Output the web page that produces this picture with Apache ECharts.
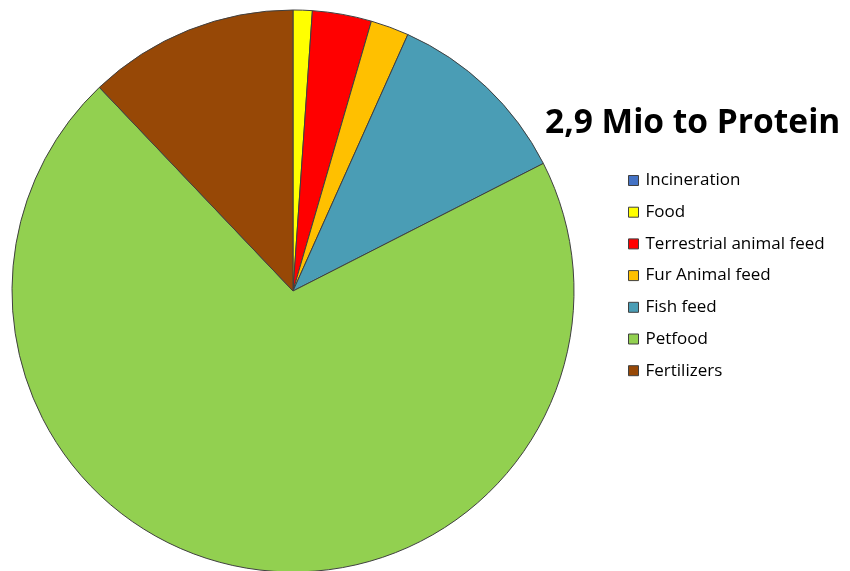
<!DOCTYPE html>
<html>
<head>
<meta charset="utf-8">
<script src="https://cdn.jsdelivr.net/npm/echarts@6/dist/echarts.min.js"></script>
<style>
  html, body { margin: 0; padding: 0; background: #ffffff; }
  #chart { width: 850px; height: 571px; }
</style>
</head>
<body>
<div id="chart"></div>
<script>
// Uses of protein (share in %)
const categories = ['Incineration', 'Food', 'Terrestrial animal feed', 'Fur Animal feed', 'Fish feed', 'Petfood', 'Fertilizers'];
const shares = [0, 1.1, 3.4, 2.2, 10.8, 70.4, 12.1];
const sliceColors = ['#4472C4', '#FFFF00', '#FF0000', '#FFC000', '#4A9DB5', '#92D050', '#974806'];
const titleText = '2,9 Mio to Protein';

const chart = echarts.init(document.getElementById('chart'), null, { renderer: 'canvas' });

const data = categories.map((name, i) => ({
  name: name,
  value: shares[i],
  itemStyle: { color: sliceColors[i] }
}));

chart.setOption({
  animation: false,
  backgroundColor: '#ffffff',
  title: {
    text: titleText,
    left: 540,
    top: 101,
    textStyle: {
      fontFamily: 'Open Sans',
      fontWeight: 'bold',
      fontSize: 33.5,
      color: '#000000'
    }
  },
  legend: {
    orient: 'vertical',
    left: 623,
    top: 167,
    itemWidth: 10,
    itemHeight: 10,
    itemGap: 14.7,
    icon: 'rect',
    selectedMode: false,
    data: categories,
    itemStyle: { borderColor: '#404040', borderWidth: 1 },
    textStyle: {
      fontFamily: 'Open Sans',
      fontSize: 17,
      color: '#000000',
      padding: [0, 0, 0, 2]
    }
  },
  series: [{
    type: 'pie',
    center: [293, 291],
    radius: 281,
    startAngle: 90,
    clockwise: true,
    avoidLabelOverlap: false,
    label: { show: false },
    labelLine: { show: false },
    emphasis: { disabled: true },
    itemStyle: { borderColor: '#404040', borderWidth: 1 },
    data: data
  }]
});
</script>
</body>
</html>
